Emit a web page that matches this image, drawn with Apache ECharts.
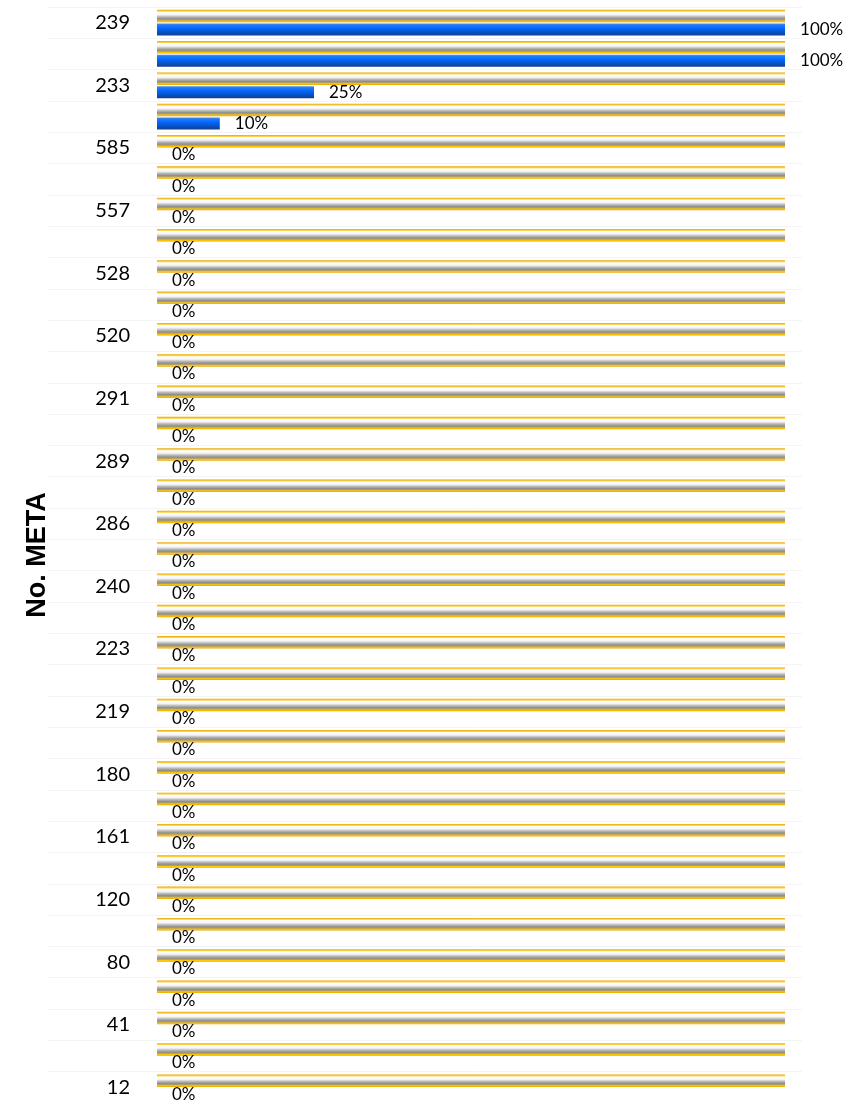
<!DOCTYPE html>
<html>
<head>
<meta charset="utf-8">
<script src="https://cdn.jsdelivr.net/npm/echarts@6/dist/echarts.min.js"></script>
<style>
html,body{margin:0;padding:0;background:#fff;}
#chart{width:849px;height:1103px;}
</style>
</head>
<body>
<div id="chart"></div>
<script>
// Categories (top to bottom). Odd rows have hidden labels in the reference; names guessed.
const categories = ['239','237','233','600','585','570','557','545','528','525','520','300','291','290','289','288','286','250','240','230','223','220','219','200','180','170','161','140','120','100','80','60','41','20','12'];
const targetValues = [100,100,100,100,100,100,100,100,100,100,100,100,100,100,100,100,100,100,100,100,100,100,100,100,100,100,100,100,100,100,100,100,100,100,100];
const actualValues = [100,100,25,10,0,0,0,0,0,0,0,0,0,0,0,0,0,0,0,0,0,0,0,0,0,0,0,0,0,0,0,0,0,0,0];
const axisTitle = 'No. META';

const chart = echarts.init(document.getElementById('chart'));
const grayGrad = new echarts.graphic.LinearGradient(0,0,0,1,[
  {offset:0,color:'#e8a800'},
  {offset:0.12,color:'#ffd24a'},
  {offset:0.2,color:'#ffffff'},
  {offset:0.4,color:'#f4f4f4'},
  {offset:0.55,color:'#bdbdbd'},
  {offset:0.72,color:'#8e8e8e'},
  {offset:0.82,color:'#b5a060'},
  {offset:0.9,color:'#ffc800'},
  {offset:1,color:'#e8a800'}
]);
const blueGrad = new echarts.graphic.LinearGradient(0,0,0,1,[
  {offset:0,color:'#4d8fe8'},
  {offset:0.15,color:'#1f78ff'},
  {offset:0.45,color:'#0064f5'},
  {offset:0.75,color:'#0a4fc0'},
  {offset:1,color:'#153f8a'}
]);
chart.setOption({
  animation:false,
  grid:{left:157,right:47,top:7,height:1096},
  xAxis:{type:'value',min:0,max:102.7,show:false},
  yAxis:{
    type:'category',
    data:categories,
    inverse:true,
    name:axisTitle,
    nameLocation:'middle',
    nameGap:106,
    nameTextStyle:{fontFamily:'Liberation Sans',fontWeight:'bold',fontSize:27,color:'#000'},
    axisLine:{show:false},
    axisTick:{show:true,interval:0,length:109,lineStyle:{color:'#f4f4f4'}},
    splitLine:{show:true,interval:0,lineStyle:{color:'#f4f4f4'}},
    axisLabel:{interval:1,margin:27,fontFamily:'Lato',fontSize:20,color:'#000'}
  },
  series:[
    {
      type:'bar',
      name:'Meta',
      data:targetValues,
      barWidth:12.5,
      barGap:'10%',
      itemStyle:{color:grayGrad},
      silent:true
    },
    {
      type:'bar',
      name:'Avance',
      data:actualValues,
      barWidth:12,
      itemStyle:{color:blueGrad},
      label:{show:true,position:'right',distance:15,formatter:'{c}%',fontFamily:'Lato',fontSize:17,color:'#000'}
    }
  ]
});
</script>
</body>
</html>
